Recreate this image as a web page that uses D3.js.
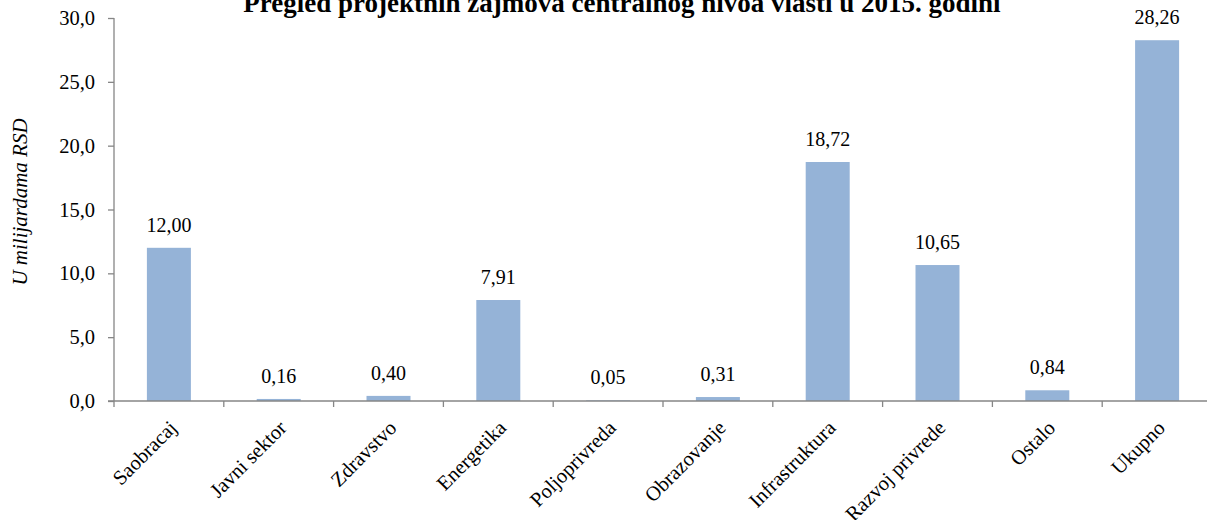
<!DOCTYPE html>
<html><head><meta charset="utf-8">
<script src="https://cdn.jsdelivr.net/npm/d3@7"></script>
<style>body{margin:0;background:#fff}svg{display:block}text{font-family:"Liberation Serif","Times New Roman",serif}</style>
</head><body><svg id="c" width="1207" height="520"></svg>
<script>
const categories = ["Saobracaj","Javni sektor","Zdravstvo","Energetika","Poljoprivreda","Obrazovanje","Infrastruktura","Razvoj privrede","Ostalo","Ukupno"];
const values = [12.00,0.16,0.40,7.91,0.05,0.31,18.72,10.65,0.84,28.26];
const yTicks = [0,5,10,15,20,25,30];
const title = "Pregled projektnih zajmova centralnog nivoa vlasti u 2015. godini";
const yTitle = "U milijardama RSD";

const svg = d3.select("#c");
const m = {l:114, r:1212, t:18, b:401};
const x = d3.scaleBand().domain(categories).range([m.l, m.r]).paddingInner(0).paddingOuter(0);
const y = d3.scaleLinear().domain([0,30]).range([m.b, m.t]);
const axisColor = "#868686";
const fmt = v => v.toFixed(2).replace(".", ",");

svg.append("text").attr("x", 622).attr("y", 12).attr("text-anchor","middle")
  .attr("font-size", 27).attr("font-weight","bold").text(title);

svg.append("text").attr("transform","translate(27,202) rotate(-90)").attr("text-anchor","middle")
  .attr("font-size",21).attr("font-style","italic").text(yTitle);

// bars
const bw = 44;
svg.selectAll("rect.bar").data(values).enter().append("rect")
  .attr("x",(d,i)=>x(categories[i]) + x.bandwidth()/2 - bw/2)
  .attr("width", bw)
  .attr("y", d=>y(d)).attr("height", d=>y(0)-y(d))
  .attr("fill","#95B3D7");

// value labels
svg.selectAll("text.val").data(values).enter().append("text")
  .attr("x",(d,i)=>x(categories[i]) + x.bandwidth()/2)
  .attr("y", d=>y(d)-16).attr("text-anchor","middle").attr("font-size",20)
  .text(d=>fmt(d));

// y axis
const ya = svg.append("g").attr("transform",`translate(${m.l},0)`)
  .call(d3.axisLeft(y).tickValues(yTicks).tickSize(6).tickPadding(13).tickFormat(d=>d.toFixed(1).replace(".",",")));
ya.selectAll("path,line").attr("stroke",axisColor).attr("stroke-width",1.3);
ya.select(".domain").attr("d",`M0,${m.t}V${m.b}`);
ya.selectAll("text").attr("font-size",20.5).attr("fill","#000").attr("font-family","Liberation Serif");

// x axis
const xa = svg.append("g").attr("transform",`translate(0,${m.b})`);
xa.append("line").attr("x1",m.l-6).attr("x2",m.r).attr("y1",0).attr("y2",0).attr("stroke",axisColor).attr("stroke-width",1.3);
const bounds = categories.map(c=>x(c));
xa.selectAll("line.t").data(bounds).enter().append("line")
  .attr("x1",d=>d).attr("x2",d=>d).attr("y1",0).attr("y2",6).attr("stroke",axisColor).attr("stroke-width",1.3);
xa.selectAll("text.cat").data(categories).enter().append("text")
  .attr("transform",d=>`translate(${x(d)+x.bandwidth()/2-1},${18}) rotate(-45)`)
  .attr("text-anchor","end").attr("dy","0.7em").attr("font-size",20.5).text(d=>d);
</script></body></html>
